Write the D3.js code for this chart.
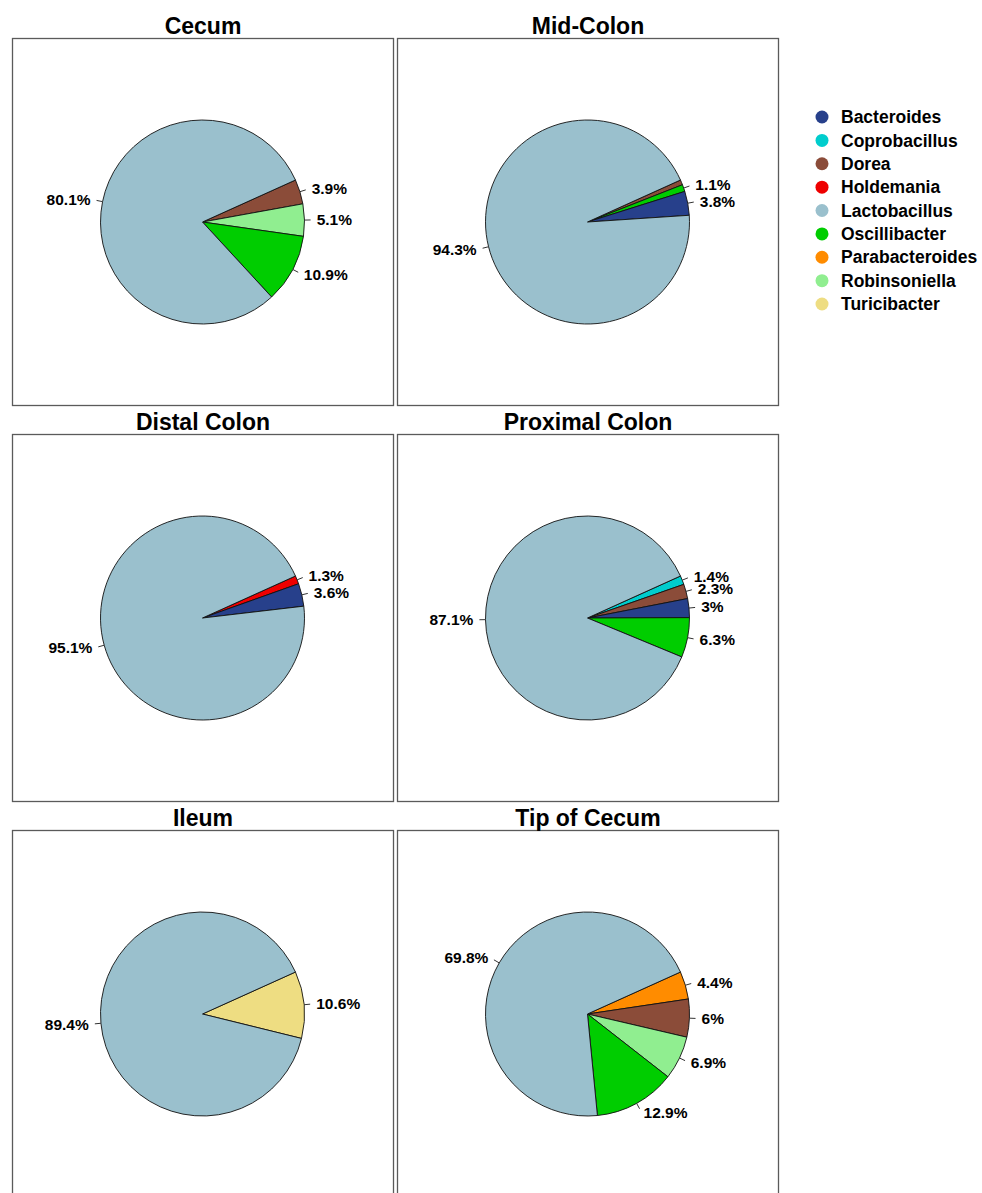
<!DOCTYPE html>
<html>
<head>
<meta charset="utf-8">
<script src="https://cdn.jsdelivr.net/npm/d3@7"></script>
<style>
  body { margin: 0; background: #fff; }
  svg { display: block; font-family: 'Liberation Sans', Arial, sans-serif; }
</style>
</head>
<body>
<div id="chart"></div>
<script>
// genera and their colours (legend order)
const genera = ['Bacteroides', 'Coprobacillus', 'Dorea', 'Holdemania', 'Lactobacillus',
  'Oscillibacter', 'Parabacteroides', 'Robinsoniella', 'Turicibacter']
const generaColors = ['#27408B', '#00CDCD', '#8B4C39', '#EE0000', '#9AC0CD',
  '#00CD00', '#FF8C00', '#90EE90', '#EEDD82']

// relative abundance (%) per site
const cecum = [['Dorea', 3.9], ['Robinsoniella', 5.1], ['Oscillibacter', 10.9], ['Lactobacillus', 80.1]]
const midColon = [['Dorea', 0.8], ['Oscillibacter', 1.1], ['Bacteroides', 3.8], ['Lactobacillus', 94.3]]
const distalColon = [['Holdemania', 1.3], ['Bacteroides', 3.6], ['Lactobacillus', 95.1]]
const proximalColon = [['Coprobacillus', 1.4], ['Dorea', 2.3], ['Bacteroides', 3], ['Oscillibacter', 6.3], ['Lactobacillus', 87.1]]
const ileum = [['Turicibacter', 10.6], ['Lactobacillus', 89.4]]
const tipOfCecum = [['Parabacteroides', 4.4], ['Dorea', 6], ['Robinsoniella', 6.9], ['Oscillibacter', 12.9], ['Lactobacillus', 69.8]]

const sites = ['Cecum', 'Mid-Colon', 'Distal Colon', 'Proximal Colon', 'Ileum', 'Tip of Cecum']
const siteData = [cecum, midColon, distalColon, proximalColon, ileum, tipOfCecum]

const width = 982
const height = 1193
const panelLeft = [12, 397]
const panelTop = [38, 434, 830]
const panelW = 382
const panelH = 368
const radius = 102
const startAngle = 65.7 * Math.PI / 180

const color = d3.scaleOrdinal().domain(genera).range(generaColors)

const svg = d3.select('#chart').append('svg')
  .attr('width', width)
  .attr('height', height)

const pie = d3.pie()
  .value((d) => d[1])
  .sort((a, b) => a[1] - b[1])
  .startAngle(startAngle)
  .endAngle(startAngle + 2 * Math.PI)

const arc = d3.arc().innerRadius(0).outerRadius(radius)

const midAngle = (d) => (d.startAngle + d.endAngle) / 2

sites.forEach((site, i) => {
  const px = panelLeft[i % 2]
  const py = panelTop[Math.floor(i / 2)]

  const panel = svg.append('g')
    .attr('transform', 'translate(' + [px, py] + ')')

  panel.append('rect')
    .attr('x', 0.5)
    .attr('y', 0.5)
    .attr('width', panelW - 1)
    .attr('height', panelH - 1)
    .attr('fill', 'none')
    .attr('stroke', '#5a5a5a')
    .attr('stroke-width', 1.3)

  panel.append('text')
    .attr('x', panelW / 2)
    .attr('y', -4)
    .attr('text-anchor', 'middle')
    .attr('font-size', 23)
    .attr('font-weight', 'bold')
    .text(site)

  const g = panel.append('g')
    .attr('transform', 'translate(' + [panelW / 2 - 0.5, panelH / 2] + ')')

  const arcs = pie(siteData[i])

  g.selectAll('path.slice')
    .data(arcs)
    .enter()
    .append('path')
    .attr('class', 'slice')
    .attr('d', arc)
    .attr('fill', (d) => color(d.data[0]))
    .attr('stroke', '#111')
    .attr('stroke-width', 0.9)

  // only slices of 1% or more get a label
  const labelled = arcs.filter((d) => d.data[1] >= 1)

  g.selectAll('line.tick')
    .data(labelled)
    .enter()
    .append('line')
    .attr('class', 'tick')
    .attr('x1', (d) => Math.sin(midAngle(d)) * radius)
    .attr('y1', (d) => -Math.cos(midAngle(d)) * radius)
    .attr('x2', (d) => Math.sin(midAngle(d)) * radius * 1.06)
    .attr('y2', (d) => -Math.cos(midAngle(d)) * radius * 1.06)
    .attr('stroke', '#333')
    .attr('stroke-width', 1)

  g.selectAll('text.pct')
    .data(labelled)
    .enter()
    .append('text')
    .attr('class', 'pct')
    .attr('x', (d) => {
      const x = Math.sin(midAngle(d)) * radius * 1.1
      return x > 0 ? x + 2 : x - 2
    })
    .attr('y', (d) => -Math.cos(midAngle(d)) * radius * 1.1)
    .attr('dy', '0.35em')
    .attr('text-anchor', (d) => Math.sin(midAngle(d)) > 0 ? 'start' : 'end')
    .attr('font-size', 15.5)
    .attr('font-weight', 'bold')
    .text((d) => d.data[1] + '%')
})

// legend
const legendY = d3.scalePoint()
  .domain(genera)
  .range([117, 304])

const legend = svg.append('g').attr('class', 'legend')

legend.selectAll('circle')
  .data(genera)
  .enter()
  .append('circle')
  .attr('cx', 822)
  .attr('cy', (d) => legendY(d))
  .attr('r', 6.5)
  .attr('fill', (d) => color(d))

legend.selectAll('text')
  .data(genera)
  .enter()
  .append('text')
  .attr('x', 841)
  .attr('y', (d) => legendY(d))
  .attr('dy', '0.35em')
  .attr('font-size', 17.5)
  .attr('font-weight', 'bold')
  .text((d) => d)
</script>
</body>
</html>
